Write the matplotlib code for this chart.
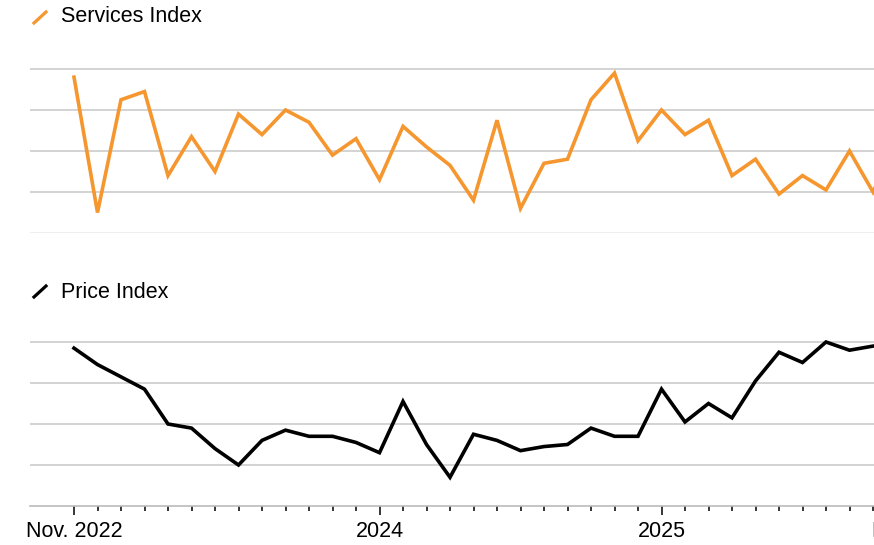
import numpy as np
import matplotlib
matplotlib.use("Agg")
import matplotlib.pyplot as plt
from matplotlib.lines import Line2D

plt.rcParams['font.family'] = ['Liberation Sans', 'DejaVu Sans']

# monthly index, 0 = Nov. 2022
services = [55.6, 49.0, 54.5, 54.9, 50.8, 52.7, 51.0, 53.8, 52.8, 54.0,
            53.4, 51.8, 52.6, 50.6, 53.2, 52.2, 51.3, 49.6, 53.5, 49.2,
            51.4, 51.6, 54.5, 55.8, 52.5, 54.0, 52.8, 53.5, 50.8, 51.6,
            49.9, 50.8, 50.1, 52.0, 50.0, 52.5]
prices = [51.7, 50.9, 50.3, 49.7, 48.0, 47.8, 46.8, 46.0, 47.2, 47.7,
          47.4, 47.4, 47.1, 46.6, 49.1, 47.0, 45.4, 47.5, 47.2, 46.7,
          46.9, 47.0, 47.8, 47.4, 47.4, 49.7, 48.1, 49.0, 48.3, 50.1,
          51.5, 51.0, 52.0, 51.6, 51.8, 51.9]
major_pos = [0, 13, 25]
major_labels = ['Nov. 2022', '2024', '2025']
last_pos, last_label = 36, 'Nov. 2025'

ORANGE = '#f5962f'
GRID = '#cccccc'
W, H = 874, 545

fig = plt.figure(figsize=(W / 100, H / 100), dpi=100)


def px(x, y):
    return x / W, 1 - y / H


x_left = (30 - 74) / 23.5
x_right = (874 - 74) / 23.5

# services panel
ax1 = fig.add_axes([30 / W, 1 - 233 / H, 844 / W, 173 / H])
ax1.plot(np.arange(len(services)), services, color=ORANGE, lw=2.6,
         solid_joinstyle='miter')
ax1.set_xlim(x_left, x_right)
ax1.set_ylim(48, 56 + 9 / 41 * 2)
for v in [50, 52, 54, 56]:
    ax1.axhline(v, color=GRID, lw=1.2, zorder=0)
ax1.axhline(48, color='#ececec', lw=1.2, zorder=0)
for s in ax1.spines.values():
    s.set_visible(False)
ax1.set_xticks([])
ax1.set_yticks([])

# price panel
ax2 = fig.add_axes([30 / W, 1 - 506 / H, 844 / W, 171 / H])
ax2.plot(np.arange(len(prices)), prices, color='black', lw=2.6,
         solid_joinstyle='miter')
ax2.set_ylim(44, 52 + 7 / 41 * 2)
for v in [46, 48, 50, 52]:
    ax2.axhline(v, color=GRID, lw=1.2, zorder=0)
for name, s in ax2.spines.items():
    if name == 'bottom':
        s.set_color('#bbbbbb')
        s.set_linewidth(1.2)
    else:
        s.set_visible(False)
ax2.set_yticks([])
ax2.set_xticks(major_pos)
ax2.set_xticklabels(major_labels, fontsize=15.5)
ax2.set_xticks(np.arange(0, 37), minor=True)
ax2.tick_params(axis='x', which='major', length=6.5, width=1.1,
                color='black', pad=4)
ax2.tick_params(axis='x', which='minor', length=3.6, width=1.1,
                color='black')
ax2.set_xlim(x_left, x_right)
# last date label sits past the right edge, only its start shows
ax2.annotate(last_label, xy=(last_pos, 0), xycoords=('data', 'axes fraction'),
             xytext=(0, -10.5), textcoords='offset points', ha='center',
             va='top', fontsize=15.5, annotation_clip=False)

# panel headers with line glyphs
fig.add_artist(Line2D([34 / W, 46 / W], [1 - 23 / H, 1 - 12 / H],
                      color=ORANGE, lw=2.3))
fig.text(*px(61, 17), 'Services Index', fontsize=15.5, va='center', ha='left')
fig.add_artist(Line2D([34 / W, 46 / W], [1 - 297 / H, 1 - 286 / H],
                      color='black', lw=2.3))
fig.text(*px(61, 292), 'Price Index', fontsize=15.5, va='center', ha='left')

fig.savefig('out.png', dpi=100)
